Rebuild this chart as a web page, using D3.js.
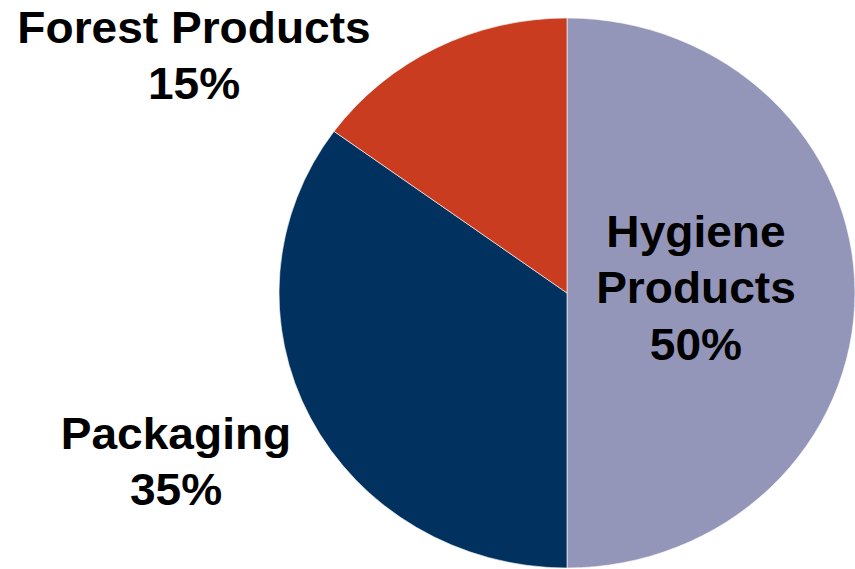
<!DOCTYPE html>
<html><head><meta charset="utf-8">
<script src="https://cdn.jsdelivr.net/npm/d3@7"></script>
<style>html,body{margin:0;padding:0;background:#fff;}svg{display:block;}</style>
</head><body>
<svg id="chart" width="855" height="569"></svg>
<script>
const categories = ["Hygiene Products", "Packaging", "Forest Products"];
const values = [50, 35, 15];
const labelLines = [["Hygiene", "Products", "50%"], ["Packaging", "35%"], ["Forest Products", "15%"]];
const colors = ["#9395B9", "#00315F", "#C93C1F"];

// layout
const W = 855, H = 569;
const cx = 567, cy = 293, ry = 275, rx = 288;
const sx = rx / ry;
const labelPos = [
  {x: 696, ys: [247, 303, 360]},
  {x: 176, ys: [449, 505]},
  {x: 194, ys: [43, 99]}
];

const svg = d3.select("#chart");
const g = svg.append("g").attr("transform", `translate(${cx},${cy}) scale(${sx},1)`);

const pie = d3.pie().sort(null).value(d => d)(values);
const arc = d3.arc().innerRadius(0).outerRadius(ry);

g.selectAll("path").data(pie).enter().append("path")
  .attr("d", arc)
  .attr("fill", (d, i) => colors[i])
  .attr("stroke", "#ffffff")
  .attr("stroke-width", 0.6);

const tg = svg.append("g").attr("transform", `scale(${sx},1)`);
labelLines.forEach((lines, i) => {
  lines.forEach((t, j) => {
    tg.append("text")
      .attr("x", labelPos[i].x / sx)
      .attr("y", labelPos[i].ys[j])
      .attr("text-anchor", "middle")
      .attr("font-family", "Liberation Sans, Arial, sans-serif")
      .attr("font-weight", "bold")
      .attr("font-size", 44)
      .attr("fill", "#000")
      .text(t);
  });
});
</script>
</body></html>
